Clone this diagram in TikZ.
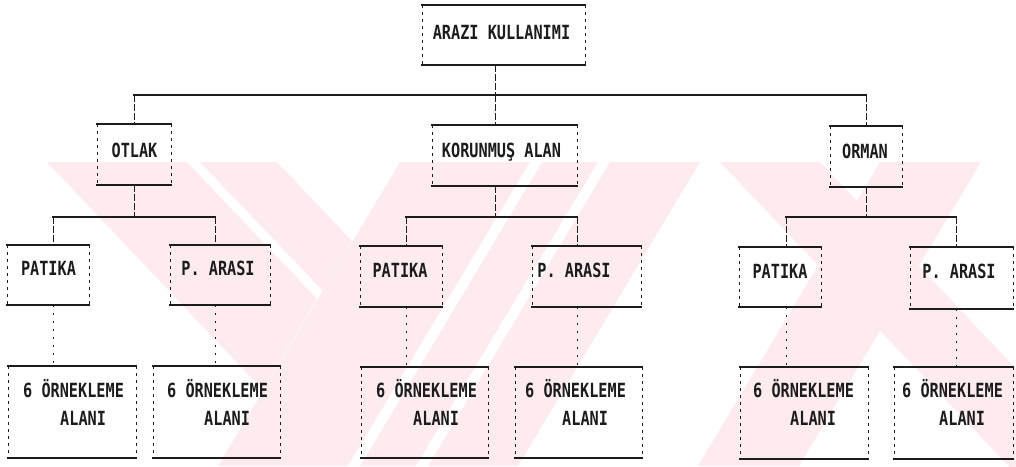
\documentclass[tikz,border=0pt]{standalone}
\usepackage{fontspec}
\newfontfamily\dotfont[FakeStretch=0.78]{DejaVu Sans Mono}
\definecolor{wm}{RGB}{253,235,239}
\definecolor{ink}{RGB}{28,28,28}
\newcommand\mkbox[5]{%
  \node[box, minimum width={#4-#2}, minimum height={#5-#3}] (#1) at ({(#2+#4)/2},{(#3+#5)/2}) {};}
\newcommand\frameit[1]{%
  \draw[edgeline] (#1.north west) -- (#1.north east);
  \draw[edgeline] (#1.south west) -- (#1.south east);
  \draw[sideline] (#1.north west) -- (#1.south west);
  \draw[sideline] (#1.north east) -- (#1.south east);}
\begin{document}
\begin{tikzpicture}[x=1pt,y=-1pt,
  box/.style={draw=none, rectangle, inner sep=0pt, outer sep=0pt},
  lbl/.style={inner sep=0pt, font=\dotfont\bfseries\fontsize{19.5}{27}\selectfont, text=ink},
  edgeline/.style={ink, line width=2pt, line cap=rect},
  sideline/.style={ink, line width=0.8pt, dash pattern=on 3pt off 4pt},
  bus/.style={ink, line width=1.8pt, line cap=rect},
  stem/.style={ink, line width=0.9pt, dash pattern=on 7pt off 2pt},
  dotline/.style={ink, line width=0.9pt, dash pattern=on 2pt off 6pt},
  wmark/.style={fill=wm, draw=none},
  wgap/.style={fill=white, draw=none}]
\useasboundingbox (0,0) rectangle (1016,466);
\fill[white] (0,0) rectangle (1016,466);
% watermark
\begin{scope}
\clip (0,162) rectangle (1016,466);
\fill[wmark] (47,162) -- (187,162) -- (317,299) -- (263,390) -- cycle;
\fill[wmark] (200,162) -- (277,162) -- (352,241) -- (323,291) -- cycle;
\fill[wmark] (400,162) -- (700,162) -- (518,466) -- (218,466) -- cycle;
\fill[wgap] (530,162) -- (542,162) -- (360,466) -- (348,466) -- cycle;
\fill[wgap] (598,162) -- (610,162) -- (428,466) -- (416,466) -- cycle;
\fill[wmark] (720,162) -- (820,162) -- (1120,478) -- (1020,478) -- cycle;
\fill[wmark] (880,162) -- (981,162) -- (799,466) -- (698,466) -- cycle;
\end{scope}
% boxes
\mkbox{root}{422}{5}{585}{65}
\mkbox{otlak}{97}{124}{171}{185}
\mkbox{korun}{432}{125}{577}{186}
\mkbox{orman}{830}{126}{902}{187}
\mkbox{pa}{7}{245}{89}{305}
\mkbox{pb}{170}{245}{270}{305}
\mkbox{pc}{360}{246}{442}{307}
\mkbox{pd}{532}{246}{641}{307}
\mkbox{pe}{739}{247}{821}{307}
\mkbox{pf}{910}{247}{1013}{309}
\mkbox{ba}{8}{366}{136}{458}
\mkbox{bb}{153}{366}{280}{458}
\mkbox{bc}{361}{367}{488}{458}
\mkbox{bd}{515}{367}{642}{458}
\mkbox{be}{740}{367}{868}{459}
\mkbox{bf}{894}{367}{1013}{459}
\foreach \n in {root,otlak,korun,orman,pa,pb,pc,pd,pe,pf,ba,bb,bc,bd,be,bf}{\frameit{\n}}
% stem coordinates
\coordinate (s0) at (495,0);
\coordinate (s1) at (134,0);
\coordinate (s2) at (495,0);
\coordinate (s3) at (866,0);
\coordinate (busA) at (0,95);
\coordinate (busB) at (0,217);
\coordinate (ta) at (53,0);
\coordinate (tb) at (215,0);
\coordinate (tc) at (406,0);
\coordinate (td) at (577,0);
\coordinate (te) at (786,0);
\coordinate (tf) at (956,0);
% level 1
\draw[stem] (root.south -| s0) -- (s0 |- busA);
\draw[bus] (s1 |- busA) -- (s3 |- busA);
\draw[stem] (s1 |- busA) -- (otlak.north -| s1);
\draw[stem] (s2 |- busA) -- (korun.north -| s2);
\draw[stem] (s3 |- busA) -- (orman.north -| s3);
% level 2
\draw[stem] (otlak.south -| s1) -- (s1 |- busB);
\draw[stem] (korun.south -| s2) -- (s2 |- busB);
\draw[stem] (orman.south -| s3) -- (s3 |- busB);
\draw[bus] (ta |- busB) -- (tb |- busB);
\draw[bus] (tc |- busB) -- (td |- busB);
\draw[bus] (te |- busB) -- (tf |- busB);
\draw[stem] (ta |- busB) -- (pa.north -| ta);
\draw[stem] (tb |- busB) -- (pb.north -| tb);
\draw[stem] (tc |- busB) -- (pc.north -| tc);
\draw[stem] (td |- busB) -- (pd.north -| td);
\draw[stem] (te |- busB) -- (pe.north -| te);
\draw[stem] (tf |- busB) -- (pf.north -| tf);
% level 3
\draw[dotline] (pa.south -| ta) -- (ba.north -| ta);
\draw[dotline] (pb.south -| tb) -- (bb.north -| tb);
\draw[dotline] (pc.south -| tc) -- (bc.north -| tc);
\draw[dotline] (pd.south -| td) -- (bd.north -| td);
\draw[dotline] (pe.south -| te) -- (be.north -| te);
\draw[dotline] (pf.south -| tf) -- (bf.north -| tf);
% labels
\node[lbl, anchor=base] (root-t) at (501.5,39) {ARAZI KULLANIMI};
\node[lbl, anchor=base] (otlak-t) at (134.5,157) {OTLAK};
\node[lbl, anchor=base] (korun-t) at (501.5,157) {KORUNMUŞ ALAN};
\node[lbl, anchor=base] (orman-t) at (865,158) {ORMAN};
\node[lbl, anchor=base] (pa-t) at (48.5,275) {PATIKA};
\node[lbl, anchor=base] (pb-t) at (218,275) {P. ARASI};
\node[lbl, anchor=base] (pc-t) at (400,277) {PATIKA};
\node[lbl, anchor=base] (pd-t) at (574,277) {P. ARASI};
\node[lbl, anchor=base] (pe-t) at (780,278) {PATIKA};
\node[lbl, anchor=base] (pf-t) at (959,278) {P. ARASI};
\foreach \n/\x in {ba/23,bb/167,bc/376,bd/525,be/753,bf/902}{
  \node[lbl, anchor=base west] (\n-t1) at (\x,397) {6 ÖRNEKLEME};
  \node[lbl, anchor=base west] (\n-t2) at (\x+37,425) {ALANI};
}
\end{tikzpicture}
\end{document}
